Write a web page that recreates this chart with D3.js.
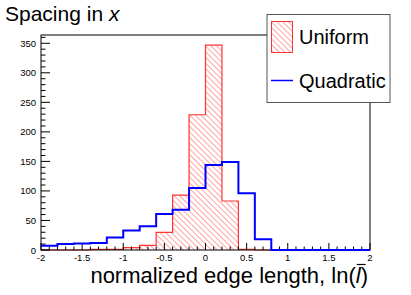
<!DOCTYPE html>
<html>
<head>
<meta charset="utf-8">
<script src="https://cdn.jsdelivr.net/npm/d3@7"></script>
<style>
  body { margin: 0; background: #fff; }
  svg { display: block; font-family: "Liberation Sans", Arial, sans-serif; }
</style>
</head>
<body>
<div id="chart"></div>
<script>
// bin lower edges, width 0.2
const binLow = [-2.0, -1.8, -1.6, -1.4, -1.2, -1.0, -0.8, -0.6, -0.4, -0.2,
                0.0, 0.2, 0.4, 0.6, 0.8, 1.0, 1.2, 1.4, 1.6, 1.8]
const binWidth = 0.2
const uniformCounts = [0, 0, 0, 1, 1, 4, 8, 30, 93, 229,
                       347, 83, 1, 0, 0, 0, 0, 0, 0, 0]
const quadraticCounts = [7, 10, 11, 12, 21, 33, 40, 61, 68, 105,
                         144, 149, 96, 18, 0, 0, 0, 0, 0, 0]
const xTicks = [-2, -1.5, -1, -0.5, 0, 0.5, 1, 1.5, 2]
const yTicks = [0, 50, 100, 150, 200, 250, 300, 350]
const seriesNames = ['Uniform', 'Quadratic']

const svgWidth = 411, svgHeight = 295
const margin = { top: 35, right: 41, bottom: 45, left: 41 }
const width = svgWidth - margin.left - margin.right
const height = svgHeight - margin.top - margin.bottom

const svg = d3.select('#chart').append('svg')
    .attr('width', svgWidth)
    .attr('height', svgHeight)

const defs = svg.append('defs')
defs.append('pattern')
    .attr('id', 'hatch')
    .attr('patternUnits', 'userSpaceOnUse')
    .attr('width', 4).attr('height', 4)
    .attr('patternTransform', 'rotate(-45)')
  .append('line')
    .attr('x1', 0).attr('y1', 0).attr('x2', 0).attr('y2', 4)
    .attr('stroke', '#ff0000').attr('stroke-opacity', 0.55).attr('stroke-width', 1.3)

const x = d3.scaleLinear().domain([-2, 2]).range([0, width])
const y = d3.scaleLinear().domain([0, 364]).range([height, 0])

const g = svg.append('g')
    .attr('transform', 'translate(' + margin.left + ', ' + margin.top + ')')

// step points incl. the closing edge
function steps(counts) {
    let pts = binLow.map((b, i) => [b, counts[i]])
    pts.push([binLow[binLow.length - 1] + binWidth, counts[counts.length - 1]])
    return pts
}

const uniPts = steps(uniformCounts)
g.append('path')
    .attr('d', d3.area().curve(d3.curveStepAfter)
        .x(d => x(d[0])).y0(y(0)).y1(d => y(d[1]))(uniPts))
    .attr('fill', 'url(#hatch)')
g.append('path')
    .attr('d', d3.line().curve(d3.curveStepAfter)
        .x(d => x(d[0])).y(d => y(d[1]))(uniPts))
    .attr('fill', 'none')
    .attr('stroke', '#ff3333')
    .attr('stroke-width', 1.2)

// frame
g.append('rect')
    .attr('x', 0).attr('y', 0)
    .attr('width', width).attr('height', height)
    .attr('fill', 'none')
    .attr('stroke', '#000')
    .attr('stroke-width', 1)

// x axis ticks (inside)
const xMinor = d3.range(-20, 21).map(d => d / 10)
g.append('g').selectAll('line').data(xMinor).join('line')
    .attr('x1', d => x(d)).attr('x2', d => x(d))
    .attr('y1', height)
    .attr('y2', d => height - (Math.abs(d * 2 - Math.round(d * 2)) < 1e-6 ? 7 : 3.5))
    .attr('stroke', '#000').attr('stroke-width', 1)

g.append('g').selectAll('text').data(xTicks).join('text')
    .attr('x', d => x(d))
    .attr('y', height + 10.5)
    .attr('text-anchor', 'middle')
    .attr('font-size', 9.5)
    .text(d => d)

// y axis ticks
const yMinor = d3.range(0, 361, 10)
g.append('g').selectAll('line').data(yMinor).join('line')
    .attr('x1', 0)
    .attr('x2', d => (d % 50 === 0 ? 9 : 4.5))
    .attr('y1', d => y(d)).attr('y2', d => y(d))
    .attr('stroke', '#000').attr('stroke-width', 1)

g.append('g').selectAll('text').data(yTicks).join('text')
    .attr('x', -5)
    .attr('y', d => y(d) + 3.5)
    .attr('text-anchor', 'end')
    .attr('font-size', 9.5)
    .text(d => d)

// quadratic on top
g.append('path')
    .attr('d', d3.line().curve(d3.curveStepAfter)
        .x(d => x(d[0])).y(d => y(d[1]))(steps(quadraticCounts)))
    .attr('fill', 'none')
    .attr('stroke', '#0000ff')
    .attr('stroke-width', 2)

// axis title
const xtPre = 'normalized edge length, ln('
const xt = svg.append('text')
    .attr('x', 368).attr('y', 283)
    .attr('text-anchor', 'end')
    .attr('font-size', 22)
xt.append('tspan').text(xtPre)
xt.append('tspan').attr('font-style', 'italic').text('l')
xt.append('tspan').text(')')
const lStart = xt.node().getStartPositionOfChar(xtPre.length)
const lEnd = xt.node().getEndPositionOfChar(xtPre.length)
svg.append('line')
    .attr('x1', lStart.x + 1).attr('x2', lEnd.x + 5)
    .attr('y1', 283 - 18.5).attr('y2', 283 - 18.5)
    .attr('stroke', '#000').attr('stroke-width', 1.2)

// title
const title = svg.append('text')
    .attr('x', 5).attr('y', 21)
    .attr('font-size', 21)
title.append('tspan').text('Spacing in ')
title.append('tspan').attr('font-style', 'italic').text('x')

// legend
const leg = svg.append('g').attr('class', 'legend')
leg.append('rect')
    .attr('x', 267).attr('y', 14.5).attr('width', 123).attr('height', 88)
    .attr('fill', '#fff').attr('stroke', '#555').attr('stroke-width', 1)
leg.append('rect')
    .attr('x', 271.5).attr('y', 21.5).attr('width', 21).attr('height', 31)
    .attr('fill', 'url(#hatch)').attr('stroke', '#ff3333').attr('stroke-width', 1)
leg.append('line')
    .attr('x1', 271).attr('x2', 293).attr('y1', 80.5).attr('y2', 80.5)
    .attr('stroke', '#0000ff').attr('stroke-width', 1.5)
leg.selectAll('text.lab').data(seriesNames).join('text')
    .attr('class', 'lab')
    .attr('x', 299)
    .attr('y', (d, i) => 44 + i * 43.5)
    .attr('font-size', 20)
    .text(d => d)
</script>
</body>
</html>
